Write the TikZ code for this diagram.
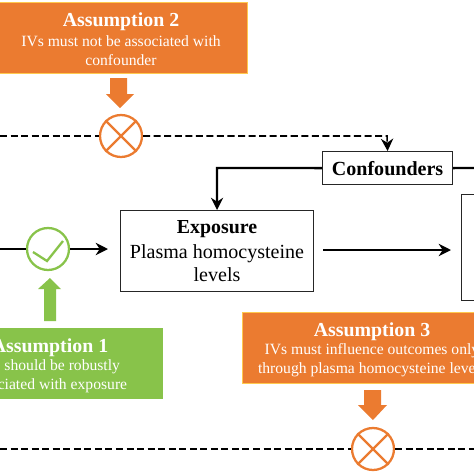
\documentclass[tikz,border=0pt]{standalone}
\usepackage{fontspec}
\setmainfont{Liberation Serif}
\usetikzlibrary{arrows.meta,positioning}
\definecolor{orangefill}{HTML}{EB7B30}
\definecolor{orangeline}{HTML}{FFC94D}
\definecolor{greenfill}{HTML}{88C34A}

\begin{document}
\begin{tikzpicture}[>={Stealth[length=7pt,width=7pt]},x=0.02cm,y=-0.02cm]
  \tikzstyle{every node}=[align=center,inner sep=0pt]
  \tikzstyle{plainbox}=[draw=black!85,line width=0.7pt,fill=white,anchor=north west]
  \tikzstyle{headtext}=[font=\fontsize{11.3}{13}\selectfont\bfseries]
  \tikzstyle{bodytext}=[font=\fontsize{11.4}{13}\selectfont]
  \tikzstyle{smalltext}=[font=\fontsize{8.9}{11}\selectfont,text=white]
  \tikzstyle{flow}=[line width=1.3pt,black]
  \tikzstyle{maybe}=[line width=0.9pt,black,dash pattern=on 4pt off 2pt]
  \tikzstyle{orangebox}=[fill=orangefill,draw=orangeline,line width=0.5pt,anchor=north west,minimum width=5.2cm,minimum height=1.42cm]
  \tikzstyle{greenbox}=[fill=greenfill,anchor=north west,minimum width=4.6cm,minimum height=1.42cm]
  \tikzstyle{checkmark}=[circle,draw,fill=white,line width=1.3pt,minimum size=0.84cm]

  \useasboundingbox (0,0) rectangle (474,474);
  \clip (0,0) rectangle (474,474);

  % boxes
  \node[orangebox] (as2) at (-13,2) {};
  \node[orangebox] (as3) at (242,312) {};
  \node[greenbox] (as1) at (-67,328) {};
  \node[plainbox,minimum width=3.86cm,minimum height=1.62cm] (exposure) at (120,210) {};
  \node[plainbox,minimum width=2.6cm,minimum height=0.66cm,font=\fontsize{11.4}{13}\selectfont\bfseries] (conf) at (322,151) {Confounders};
  \node[plainbox,minimum width=1cm,minimum height=2.12cm] (outcome) at (461,194) {};

  % texts
  \node[headtext,text=white] (as2t) at (121,21.5) {Assumption 2};
  \node[smalltext] (as2b) at (121,50.5) {IVs must not be associated with\\confounder};
  \node[headtext,text=white] (as3t) at (372,332) {Assumption 3};
  \node[smalltext] (as3b) at (372,360.5) {IVs must influence outcomes only\\through plasma homocysteine levels};
  \node[headtext,text=white] (as1t) at (50,347.5) {Assumption 1};
  \node[smalltext] (as1b) at (49,376.5) {IVs should be robustly\\associated with exposure};
  \node[headtext] (expt) at (217,229) {Exposure};
  \node[bodytext] (expb) at (217,263) {Plasma homocysteine\\levels};

  % markers
  \node[checkmark,draw=orangefill] (no2) at (121,136) {};
  \node[checkmark,draw=orangefill] (no3) at (373,449) {};
  \node[checkmark,draw=greenfill] (yes1) at (48,249) {};
  \draw[orangefill,line width=1.3pt] (no2.north west) -- (no2.south east) (no2.north east) -- (no2.south west);
  \draw[orangefill,line width=1.3pt] (no3.north west) -- (no3.south east) (no3.north east) -- (no3.south west);
  \draw[greenfill,line width=1.3pt] (33,252) -- (47,261) -- (63,241);

  % connectors
  \coordinate (left2) at (0,136);
  \coordinate (bend2) at (387,136);
  \coordinate (left1) at (0,249);
  \coordinate (bendc) at (217,168);
  \coordinate (right2) at (474,168);
  \coordinate (left3) at (0,449);
  \coordinate (right3) at (474,449);
  \coordinate (endyes) at (108,249);
  \coordinate (startout) at (323,250);
  \coordinate (endout) at (451,250);
  \draw[maybe] (left2) -- (no2);
  \draw[maybe,->] (no2) -- (bend2) -- (conf.north);
  \draw[flow] (left1) -- (yes1);
  \draw[flow,->] (yes1) -- (endyes);
  \draw[flow,->] (conf.west) -- (bendc) -- (exposure.north);
  \draw[flow] (conf.east) -- (right2);
  \draw[flow,->] (startout) -- (endout);
  \draw[maybe] (left3) -- (no3);
  \draw[maybe] (no3) -- (right3);

  % block arrows
  \fill[orangefill] (110,78) -- (127,78) -- (127,94) -- (134,94) -- (120,108) -- (106,94) -- (110,94) -- cycle;
  \fill[orangefill] (364,390) -- (381,390) -- (381,405) -- (387,405) -- (373,420) -- (358,405) -- (364,405) -- cycle;
  \fill[greenfill] (44,321) -- (56,321) -- (56,289) -- (61,289) -- (50,278) -- (38,289) -- (44,289) -- cycle;
\end{tikzpicture}
\end{document}
